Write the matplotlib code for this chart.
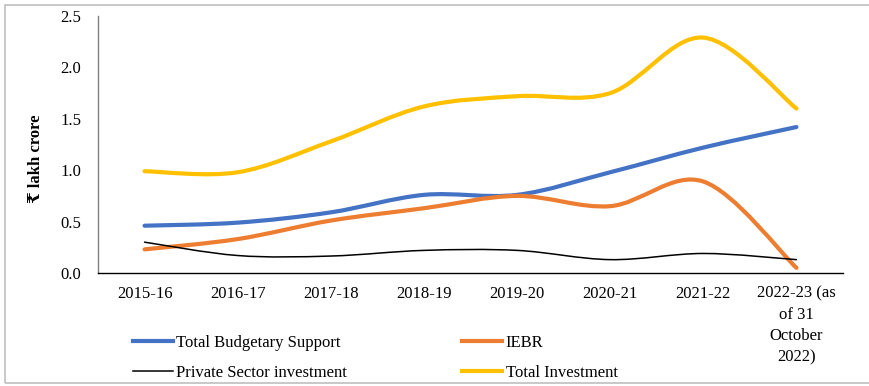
import numpy as np
import matplotlib
matplotlib.use('Agg')
import matplotlib.pyplot as plt
from matplotlib.path import Path
from matplotlib.patches import PathPatch, Rectangle
from matplotlib.lines import Line2D

plt.rcParams['font.family'] = ['Liberation Serif', 'DejaVu Serif']
plt.rcParams['font.size'] = 12

years = ['2015-16', '2016-17', '2017-18', '2018-19', '2019-20',
         '2020-21', '2021-22', '2022-23 (as\nof 31\nOctober\n2022)']
budgetary = [0.46, 0.49, 0.59, 0.76, 0.76, 0.98, 1.22, 1.42]
iebr = [0.23, 0.33, 0.51, 0.63, 0.75, 0.65, 0.89, 0.05]
private = [0.30, 0.17, 0.165, 0.22, 0.22, 0.13, 0.19, 0.13]
total = [0.99, 0.98, 1.28, 1.62, 1.72, 1.75, 2.29, 1.60]

series = [
    ('Total Budgetary Support', budgetary, '#4472C4', 3.0),
    ('IEBR', iebr, '#ED7D31', 3.0),
    ('Private Sector investment', private, '#000000', 1.1),
    ('Total Investment', total, '#FFC000', 3.0),
]


def smooth_path(ys):
    """Spreadsheet-style smoothed line: cubic Bezier segments with
    Catmull-Rom control points through every data point."""
    pts = np.column_stack([np.arange(len(ys)), ys]).astype(float)
    ext = np.vstack([pts[0], pts, pts[-1]])
    verts = [pts[0]]
    codes = [Path.MOVETO]
    for i in range(len(pts) - 1):
        p0, p1, p2, p3 = ext[i], ext[i + 1], ext[i + 2], ext[i + 3]
        verts += [p1 + (p2 - p0) / 6, p2 - (p3 - p1) / 6, p2]
        codes += [Path.CURVE4] * 3
    return Path(verts, codes)


fig = plt.figure(figsize=(8.69, 3.86), dpi=100)
ax = fig.add_axes([98 / 869, 1 - 273 / 386, 745 / 869, 257 / 386])

handles = []
for label, ys, color, lw in series:
    ax.add_patch(PathPatch(smooth_path(ys), fill=False, edgecolor=color,
                           linewidth=lw, capstyle='round', joinstyle='round'))
    handles.append(Line2D([], [], color=color, linewidth=lw, label=label))

ax.set_xlim(-0.5, len(years) - 0.5)
ax.set_ylim(0, 2.5)
ax.set_xticks(range(len(years)))
ax.set_xticklabels(years, linespacing=1.45)
ax.set_yticks(np.arange(0, 2.51, 0.5))
ax.set_yticklabels([f'{v:.1f}' for v in np.arange(0, 2.51, 0.5)])
ax.tick_params(axis='both', length=0, colors='#000000', labelsize=12)
ax.tick_params(axis='y', pad=12)
ax.tick_params(axis='x', pad=9)
for side in ['top', 'right']:
    ax.spines[side].set_visible(False)
ax.spines['left'].set_color('#808080')
ax.spines['left'].set_linewidth(1.0)
ax.spines['bottom'].set_color('#000000')
ax.spines['bottom'].set_linewidth(1.0)

fig.text(36 / 869, 1 - 159 / 386, '₹ lakh crore', rotation=90,
         ha='center', va='center', fontsize=12, fontweight='bold')

# legend in two columns below the axes
order = [handles[0], handles[2], handles[1], handles[3]]
fig.legend(handles=order, loc='upper left',
           bbox_to_anchor=(133 / 869, 1 - 335 / 386), ncol=2,
           frameon=False, fontsize=12, handlelength=2.4, handletextpad=0.2,
           columnspacing=6.9, labelspacing=0.85, borderpad=0, borderaxespad=0)

# thin grey frame round the whole chart
fig.patches.append(Rectangle((5 / 869, 3 / 386), 1.0, 378 / 386,
                             transform=fig.transFigure, fill=False,
                             edgecolor='#BFBFBF', linewidth=1.2))

fig.savefig('out.png', dpi=100)
